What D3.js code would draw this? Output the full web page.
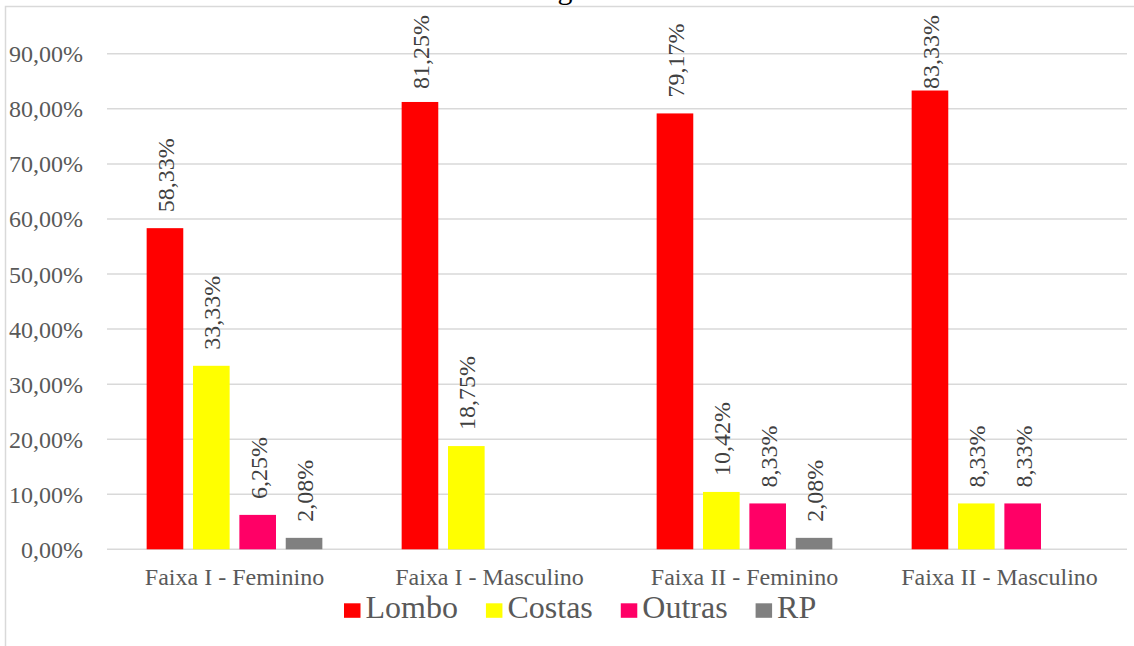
<!DOCTYPE html>
<html>
<head>
<meta charset="utf-8">
<script src="https://cdn.jsdelivr.net/npm/d3@7"></script>
<style>
  html, body { margin: 0; padding: 0; background: #ffffff; }
  svg { display: block; }
</style>
</head>
<body>
<script>
// ---- data ----
const categories = ["Faixa I - Feminino", "Faixa I - Masculino", "Faixa II - Feminino", "Faixa II - Masculino"];
const seriesNames = ["Lombo", "Costas", "Outras", "RP"];
const lombo  = [58.33, 81.25, 79.17, 83.33];
const costas = [33.33, 18.75, 10.42, 8.33];
const outras = [6.25, null, 8.33, 8.33];
const rp     = [2.08, null, 2.08, null];
const seriesColors = ["#FF0000", "#FFFF00", "#FF0066", "#808080"];
const yTicks = [0, 10, 20, 30, 40, 50, 60, 70, 80, 90];
const titleText = "g";

const seriesValues = [lombo, costas, outras, rp];
const FONT = "'Liberation Serif', 'DejaVu Serif', 'Times New Roman', Times, serif";

// ---- layout ----
const W = 1134, H = 646;
const plot = { left: 107, right: 1127, top: 53.8, bottom: 549.3 };

const svg = d3.select("body").append("svg").attr("width", W).attr("height", H)
  .style("font-family", FONT);

// frame (chart area border, partially cut)
svg.append("path")
  .attr("d", `M5.5,${H} L5.5,6.5 L${W},6.5`)
  .attr("fill", "none").attr("stroke", "#d9d9d9").attr("stroke-width", 1.5);

// title (mostly cut off above the view)
svg.append("text")
  .attr("x", 565).attr("y", -1)
  .attr("text-anchor", "middle")
  .style("font-family", FONT)
  .attr("font-size", 30).attr("fill", "#000")
  .text(titleText);

const x0 = d3.scaleBand().domain(categories).range([plot.left, plot.right]).padding(0);
const groupW = 175.7;
const x1 = d3.scaleBand().domain(seriesNames)
  .range([(x0.bandwidth() - groupW) / 2, (x0.bandwidth() + groupW) / 2])
  .paddingInner(0.21).paddingOuter(0);
const y = d3.scaleLinear().domain([0, 90]).range([plot.bottom, plot.top]);

// gridlines
svg.append("g").selectAll("line").data(yTicks).join("line")
  .attr("x1", plot.left).attr("x2", plot.right)
  .attr("y1", d => y(d)).attr("y2", d => y(d))
  .attr("stroke", "#d9d9d9").attr("stroke-width", 1.5);

// y axis labels
const fmt = d => d.toFixed(2).replace(".", ",") + "%";
const yAxis = d3.axisLeft(y).tickValues(yTicks).tickSize(0).tickPadding(0).tickFormat(fmt);
const yg = svg.append("g").attr("transform", "translate(83,0)").call(yAxis)
  .attr("font-family", null).attr("font-size", null);
yg.select(".domain").remove();
yg.selectAll("text")
  .style("font-family", FONT)
  .style("font-size", "24px").attr("fill", "#595959")
  .attr("dy", null).attr("dominant-baseline", "central").attr("y", 0);

// x axis labels
const xAxis = d3.axisBottom(x0).tickSize(0).tickPadding(0);
const xg = svg.append("g").attr("transform", `translate(0,${plot.bottom})`).call(xAxis)
  .attr("font-family", null).attr("font-size", null);
xg.select(".domain").remove();
xg.selectAll("text")
  .style("font-family", FONT)
  .style("font-size", "24px").attr("fill", "#595959")
  .attr("dy", null).attr("y", 36);

// bars
const flat = [];
categories.forEach((c, i) => {
  seriesNames.forEach((s, j) => {
    const v = seriesValues[j][i];
    if (v !== null && v !== undefined) flat.push({ c, s, v, color: seriesColors[j] });
  });
});

const barsG = svg.append("g");
barsG.selectAll("rect").data(flat).join("rect")
  .attr("x", d => x0(d.c) + x1(d.s))
  .attr("y", d => y(d.v))
  .attr("width", x1.bandwidth())
  .attr("height", d => y(0) - y(d.v))
  .attr("fill", d => d.color);

// data labels (kept inside the chart area: top of text no higher than y=15)
barsG.selectAll("text").data(flat).join("text")
  .attr("text-anchor", "start")
  .style("font-family", FONT)
  .style("font-size", "24px").attr("fill", "#404040")
  .text(d => d.v.toFixed(2).replace(".", ",") + "%")
  .attr("transform", function(d) {
    const cx = x0(d.c) + x1(d.s) + x1.bandwidth() / 2;
    const len = this.getComputedTextLength();
    const yb = Math.max(y(d.v) - 16, 15 + len);
    return `translate(${cx + 9},${yb}) rotate(-90)`;
  });

// legend
const leg = svg.append("g");
let lx = 344;
seriesNames.forEach((s, j) => {
  leg.append("rect").attr("x", lx).attr("y", 603.3).attr("width", 16.5).attr("height", 14.5)
    .attr("fill", seriesColors[j]);
  const t = leg.append("text").attr("x", lx + 16.5 + 5).attr("y", 618.3)
    .style("font-family", FONT)
    .style("font-size", "32px").attr("fill", "#595959").text(s);
  const w = t.node().getComputedTextLength();
  lx = lx + 16.5 + 5 + w + 28;
});
</script>
</body>
</html>
